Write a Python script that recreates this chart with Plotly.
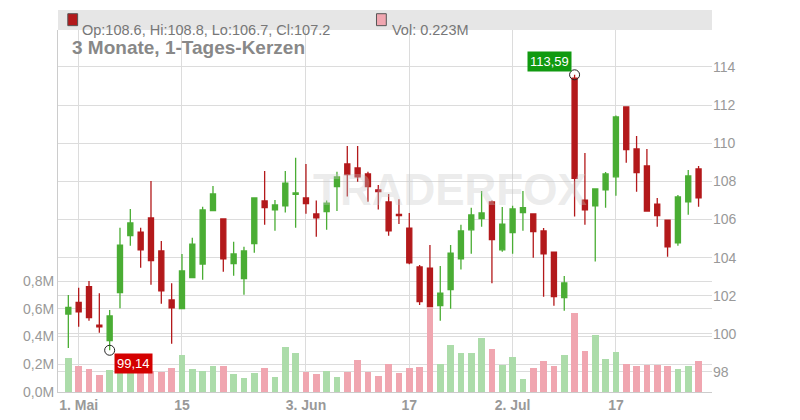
import plotly.graph_objects as go

opens = [101.04,101.65,102.47,100.46,99.64,102.16,105.15,105.34,106.08,104.35,101.78,101.32,102.95,103.66,106.46,106.03,103.68,102.90,104.73,106.97,
         106.51,106.72,107.32,107.13,106.29,106.41,107.72,108.91,108.70,108.39,107.55,106.92,106.27,105.55,103.51,103.45,101.48,102.32,103.94,105.46,
         106.04,106.92,104.41,105.31,106.36,106.29,105.40,104.29,101.90,113.41,107.01,106.72,107.56,108.24,111.90,109.70,108.81,106.81,105.97,104.78,
         106.93,108.65]
highs = [102.04,102.42,102.77,102.13,101.25,105.57,106.55,105.57,108.02,104.87,102.65,104.19,105.04,106.67,107.76,106.06,104.83,104.57,107.13,108.54,
         107.02,108.54,109.24,108.91,106.99,106.99,108.51,109.86,109.86,108.51,107.81,107.34,107.06,106.34,103.61,104.66,103.56,104.66,105.73,106.62,
         107.49,106.99,106.65,106.72,107.49,106.29,105.55,104.29,103.03,113.59,109.49,107.60,108.49,111.45,111.90,110.38,109.70,107.13,105.97,107.28,
         108.60,108.81]
lows = [99.26,100.37,100.69,100.06,99.14,101.34,104.62,103.47,102.58,101.58,99.48,101.32,102.95,102.84,106.46,103.26,103.05,102.05,104.26,105.73,
        105.41,106.36,105.57,106.30,105.10,105.46,106.44,107.20,107.98,106.93,106.53,105.15,105.76,103.65,101.51,99.89,100.69,101.32,103.37,104.20,
        105.62,102.65,104.31,104.20,105.41,103.99,101.95,101.48,101.21,106.15,105.73,103.79,106.62,107.25,108.98,107.46,106.41,105.62,104.05,104.62,
        106.25,106.67]
closes = [101.39,101.16,100.85,100.37,100.94,104.66,105.82,104.41,103.84,102.26,101.37,103.30,104.71,106.50,107.34,103.94,104.19,104.35,107.13,106.62,
          106.76,107.91,107.39,106.83,106.09,106.86,108.23,108.35,108.24,107.72,107.46,105.41,106.20,103.72,101.69,101.42,102.14,104.24,105.40,106.24,
          106.34,104.94,105.76,106.55,106.62,105.36,104.20,101.95,102.67,108.16,106.51,107.60,108.39,111.38,109.66,108.46,106.44,106.20,104.57,107.18,
          108.28,107.14]
volumes = [0.247,0.187,0.166,0.123,0.159,0.159,0.159,0.144,0.150,0.144,0.173,0.267,0.166,0.151,0.187,0.187,0.130,0.101,0.137,0.173,
           0.108,0.324,0.281,0.144,0.130,0.151,0.108,0.144,0.231,0.144,0.115,0.202,0.137,0.173,0.180,0.615,0.202,0.339,0.281,0.281,
           0.389,0.310,0.195,0.252,0.094,0.173,0.223,0.187,0.267,0.569,0.296,0.411,0.238,0.288,0.202,0.187,0.195,0.195,0.187,0.166,
           0.187,0.223]
tick_idx = [1, 11, 23, 33, 43, 53]
tick_labels = ["<b>1. Mai</b>", "<b>15</b>", "<b>3. Jun</b>", "<b>17</b>", "<b>2. Jul</b>", "<b>17</b>"]
price_ticks = [98, 100, 102, 104, 106, 108, 110, 112, 114]
vol_ticks = [0, 0.2, 0.4, 0.6, 0.8]
vol_labels = ["0,0M", "0,2M", "0,4M", "0,6M", "0,8M"]

RED, GREEN = "#b3191b", "#4aad34"
x = list(range(len(opens)))
vcol = ["#f0a6b0" if c < o else "#acdcaa" for o, c in zip(opens, closes)]

fig = go.Figure()
fig.add_trace(go.Bar(x=x, y=volumes, marker_color=vcol, marker_line_width=0, width=0.65,
                     yaxis="y2", showlegend=False, hoverinfo="skip"))
fig.add_trace(go.Candlestick(x=x, open=opens, high=highs, low=lows, close=closes, yaxis="y",
                             increasing=dict(line=dict(color=GREEN, width=1.3), fillcolor=GREEN),
                             decreasing=dict(line=dict(color=RED, width=1.3), fillcolor=RED),
                             whiskerwidth=0, showlegend=False))
imin = lows.index(min(lows)); imax = highs.index(max(highs))
fig.add_trace(go.Scatter(x=[imin, imax], y=[lows[imin], highs[imax]], mode="markers",
                         marker=dict(symbol="circle-open", size=10, color="#222", line=dict(width=1)),
                         showlegend=False, hoverinfo="skip"))
fig.add_annotation(x=imin, y=lows[imin], text="99,14", showarrow=False, xanchor="left", yanchor="top",
                   xshift=4, yshift=-3, bgcolor="#d40000", font=dict(color="white", size=13, family="Arial"), borderpad=2)
fig.add_annotation(x=imax, y=highs[imax], text="113,59", showarrow=False, xanchor="right", yanchor="bottom",
                   xshift=-3, yshift=3, bgcolor="#109a10", font=dict(color="white", size=13, family="Arial"), borderpad=2)

fig.update_layout(
    width=800, height=420, margin=dict(l=50, r=96, t=22, b=36, autoexpand=False),
    paper_bgcolor="white", plot_bgcolor="white", bargap=0,
    font=dict(family="Arial, Liberation Sans", color="#999"),
    xaxis=dict(range=[-1, 62.3], tickvals=tick_idx, ticktext=tick_labels, showgrid=True, gridcolor="#dcdcdc",
               rangeslider=dict(visible=False), zeroline=False, showline=True, linecolor="#ccc",
               tickfont=dict(size=14, color="#999"), ticks="", automargin=False),
    yaxis=dict(side="right", range=[96.95, 115.94], tickvals=price_ticks, showgrid=True, gridcolor="#dcdcdc",
               zeroline=False, tickfont=dict(size=14, color="#999"), ticks="", automargin=False),
    yaxis2=dict(side="left", overlaying="y", range=[0, 2.61], tickvals=vol_ticks, ticktext=vol_labels,
                showgrid=True, gridcolor="#dcdcdc", zeroline=False, tickfont=dict(size=14, color="#999"),
                showline=True, linecolor="#ccc", automargin=False),
)
fig.add_shape(type="rect", xref="paper", yref="paper", x0=0, x1=1, y0=1, y1=1.055, fillcolor="#e6e6e6", line_width=0)
fig.add_shape(type="rect", xref="paper", yref="paper", x0=0.015, x1=0.03, y0=1.012, y1=1.045, fillcolor=RED, line=dict(color="#555", width=1))
fig.add_annotation(xref="paper", yref="paper", x=0.034, y=1.028, text="Op:108.6, Hi:108.8, Lo:106.7, Cl:107.2",
                   showarrow=False, xanchor="left", font=dict(size=14.5, color="#777"))
fig.add_shape(type="rect", xref="paper", yref="paper", x0=0.487, x1=0.502, y0=1.012, y1=1.045, fillcolor="#f0a6b0", line=dict(color="#555", width=1))
fig.add_annotation(xref="paper", yref="paper", x=0.508, y=1.028, text="Vol: 0.223M",
                   showarrow=False, xanchor="left", font=dict(size=14.5, color="#777"))
fig.add_annotation(xref="paper", yref="paper", x=0.019, y=0.985, text="<b>3 Monate, 1-Tages-Kerzen</b>",
                   showarrow=False, xanchor="left", yanchor="top", font=dict(size=19, color="#888"))
fig.add_annotation(xref="paper", yref="paper", x=0.6, y=0.56, text="<b>TRADERFOX</b>", showarrow=False,
                   font=dict(size=44, color="rgba(200,200,200,0.35)"))
fig.write_html("out.html")
